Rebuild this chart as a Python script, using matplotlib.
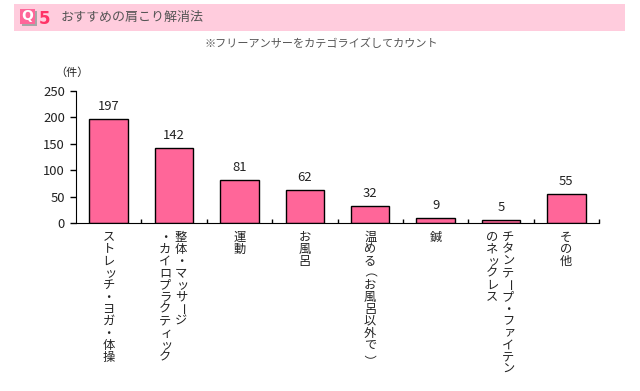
import matplotlib
matplotlib.use('Agg')
import matplotlib.pyplot as plt
from matplotlib.patches import Rectangle

plt.rcParams['font.family'] = ['Noto Sans CJK JP', 'DejaVu Sans']

W, H = 640, 391

# データ
labels = [
    ['ストレッチ・ヨガ・体操'],
    ['整体・マッサージ', '・カイロプラクティック'],
    ['運動'],
    ['お風呂'],
    ['温める（お風呂以外で）'],
    ['鍼'],
    ['チタンテープ・ファイテン', 'のネックレス'],
    ['その他'],
]
values = [197, 142, 81, 62, 32, 9, 5, 55]
yticks = [0, 50, 100, 150, 200, 250]
title = 'おすすめの肩こり解消法'
subtitle = '※フリーアンサーをカテゴライズしてカウント'
unit = '（件）'

ROTATED = 'ー（）'
SMALL = 'ッィァャュョ'
# 回転した括弧は字面がずれるので補正する
NUDGE = {'（': (-9, -5), '）': (-2, -3)}
PINK = '#ff6699'
GREY = '#555555'

fig = plt.figure(figsize=(W / 100, H / 100), dpi=100)

# ヘッダー部分はピクセル座標で描く
bg = fig.add_axes([0, 0, 1, 1])
bg.set_xlim(0, W)
bg.set_ylim(H, 0)
bg.axis('off')
bg.add_patch(Rectangle((14, 4), 611, 27, color='#ffccdd', lw=0))
bg.add_patch(Rectangle((22, 11), 15, 15, color='#a6a6a6', lw=0))
bg.add_patch(Rectangle((20, 9), 15, 15, color='#ff6699', lw=0))
bg.text(27.5, 16.5, 'Q', color='white', fontsize=10, fontweight='bold', ha='center', va='center', family='DejaVu Sans')
bg.text(45, 19, '5', color='#ff3366', fontsize=12, fontweight='bold', ha='center', va='center', family='DejaVu Sans')
bg.text(61, 17, title, color=GREY, fontsize=9.4, va='center')
bg.text(321.5, 44, subtitle, color=GREY, fontsize=8, ha='center', va='center')
bg.text(72, 73, unit, color='#222222', fontsize=8, ha='center', va='center')

ax = fig.add_axes([76 / W, 1 - 223 / H, 523 / W, 132 / H])
ax.patch.set_alpha(0)
xs = range(len(values))
bars = ax.bar(xs, values, width=0.59, color=PINK, edgecolor='black', linewidth=1)
ax.set_xlim(-0.5, len(values) - 0.5)
ax.set_ylim(0, 250)
ax.set_yticks(yticks)
ax.set_xticks([i + 0.5 for i in xs])
ax.set_xticklabels([])
ax.tick_params(axis='y', length=4, width=1, labelsize=9.4, pad=4, labelcolor='#222222')
ax.tick_params(axis='x', direction='in', length=3, width=1)
for s in ['top', 'right']:
    ax.spines[s].set_visible(False)

for i, v in enumerate(values):
    ax.annotate(str(v), xy=(i, v), xytext=(0, 6), textcoords='offset pixels',
                ha='center', va='bottom', fontsize=9.4, color='#222222')

# 縦書きラベル（1文字ずつ）
for i, cols in enumerate(labels):
    n = len(cols)
    for c, col in enumerate(cols):
        dx = 7 - c * 16 if n > 1 else 0
        for k, ch in enumerate(col):
            off_x, off_y = NUDGE.get(ch, (2 if ch in SMALL else 0, 0))
            ax.annotate(ch, xy=(i, 0), xytext=(dx + off_x, -14 - k * 12 + off_y),
                        textcoords='offset pixels', ha='center', va='center',
                        fontsize=8.8, color='#222222',
                        rotation=-90 if ch in ROTATED else 0)

fig.savefig('out.png', dpi=100)
